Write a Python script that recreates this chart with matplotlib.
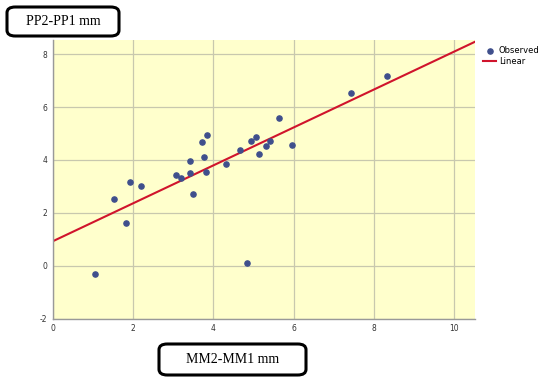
import numpy as np
import matplotlib.pyplot as plt
from matplotlib.patches import FancyBboxPatch

plt.rcParams['axes.unicode_minus'] = False

# observed points (MM2-MM1, PP2-PP1)
mm_diff = [1.06, 1.54, 1.82, 1.93, 2.20, 3.08, 3.21, 3.41, 3.42, 3.49, 3.71, 3.78, 3.84,
           3.81, 4.32, 4.66, 4.84, 4.93, 5.07, 5.15, 5.31, 5.41, 5.65, 5.95, 7.43, 8.33]
pp_diff = [-0.31, 2.51, 1.60, 3.16, 3.00, 3.44, 3.33, 3.96, 3.49, 2.71, 4.68, 4.12, 4.96,
           3.54, 3.84, 4.36, 0.09, 4.73, 4.87, 4.22, 4.51, 4.73, 5.60, 4.56, 6.54, 7.17]
# linear fit
intercept = 0.92
slope = 0.718
x_ticks = [0, 2, 4, 6, 8, 10]
y_ticks = [-2, 0, 2, 4, 6, 8]

fig = plt.figure(figsize=(5.5, 3.82), dpi=100)
ax = fig.add_axes([52.6/550, 1-318.5/382, (475-52.6)/550, (318.5-40)/382])
ax.set_facecolor("#FFFFCC")
ax.set_xlim(0, 10.52)
ax.set_ylim(-2, 8.54)

ax.set_xticks(x_ticks)
ax.set_yticks(y_ticks)
ax.grid(True, color="#C8C8AE", linewidth=0.9)
ax.set_axisbelow(True)
ax.tick_params(length=0, labelsize=5.5, labelcolor="#333333", pad=4)
for s in ["top", "right"]:
    ax.spines[s].set_visible(False)
for s in ["left", "bottom"]:
    ax.spines[s].set_color("#999999")
    ax.spines[s].set_linewidth(1)

ax.scatter(mm_diff, pp_diff, s=14, color="#3F4F8C", zorder=3, label="Observed")
xl = np.array([0, 10.52])
ax.plot(xl, intercept + slope*xl, color="#D0142C", linewidth=1.5, zorder=2, label="Linear")

ax.legend(loc="upper left", bbox_to_anchor=(1.005, 1.0), frameon=False, fontsize=6,
          handlelength=1.6, handletextpad=0.3, borderaxespad=0.3, labelspacing=0.25)

# label boxes
for (x0, y0, x1, y1, txt) in [(7, 7, 119, 36, "PP2-PP1 mm"), (159, 344, 306, 375, "MM2-MM1 mm")]:
    box = FancyBboxPatch((x0/550, 1-y1/382), (x1-x0)/550, (y1-y0)/382,
                         boxstyle="round,pad=0,rounding_size=0.015", transform=fig.transFigure,
                         facecolor="white", edgecolor="black", linewidth=2.2)
    fig.patches.append(box)
    fig.text((x0+x1)/2/550, 1-(y0+y1)/2/382, txt, ha="center", va="center",
             family="Liberation Serif", fontsize=10)

fig.savefig("out.png", dpi=100)
